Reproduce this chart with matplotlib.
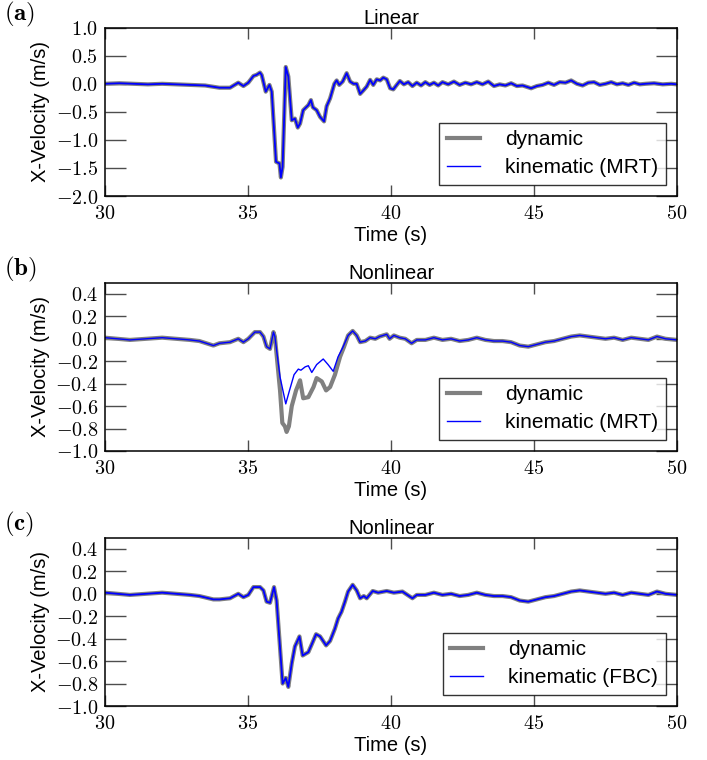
import matplotlib
matplotlib.use("Agg")
import matplotlib.pyplot as plt
from matplotlib.ticker import FuncFormatter

# ---------------- data ----------------
t_a = [30.0, 30.5, 31.0, 31.5, 32.0, 32.5, 33.0, 33.5, 34.0, 34.37, 34.66, 34.84, 35.01,
       35.19, 35.3, 35.42, 35.48, 35.62, 35.75, 35.83, 35.98, 36.1, 36.15, 36.21, 36.32,
       36.41, 36.53, 36.64, 36.74, 36.82, 36.93, 37.03, 37.11, 37.2, 37.27, 37.4, 37.52,
       37.66, 37.75, 37.87, 38.02, 38.1, 38.19, 38.31, 38.45, 38.57, 38.69, 38.8, 38.92,
       39.03, 39.15, 39.27, 39.38, 39.5, 39.62, 39.73, 39.85, 39.97, 40.08, 40.2, 40.31,
       40.45, 40.6, 40.75, 40.9, 41.05, 41.2, 41.35, 41.5, 41.65, 41.8, 42.0, 42.2, 42.4,
       42.6, 42.8, 43.0, 43.2, 43.4, 43.6, 43.8, 44.0, 44.2, 44.4, 44.6, 44.9, 45.1, 45.3,
       45.5, 45.7, 45.9, 46.1, 46.3, 46.5, 46.7, 46.9, 47.1, 47.3, 47.5, 47.7, 47.9, 48.1,
       48.3, 48.5, 48.7, 48.9, 49.2, 49.5, 49.8, 50.0]
dyn_a = [0.0, 0.01, 0.0, -0.01, 0.0, -0.01, -0.02, -0.03, -0.07, -0.07, 0.02, -0.04, 0.02,
         0.14, 0.16, 0.20, 0.155, -0.14, -0.02, -0.14, -1.39, -1.42, -1.67, -1.48, 0.30,
         0.13, -0.65, -0.62, -0.78, -0.71, -0.47, -0.42, -0.38, -0.29, -0.42, -0.47, -0.59,
         -0.67, -0.40, -0.26, 0.0, 0.06, -0.02, 0.04, 0.19, 0.04, 0.0, 0.0, -0.18,
         -0.12, -0.05, 0.07, -0.02, 0.08, 0.06, 0.11, 0.08, -0.08, -0.10, -0.02, 0.05,
         -0.01, 0.03, -0.04, 0.02, -0.03, 0.03, -0.02, 0.02, -0.03, 0.03, -0.01, 0.04, -0.02,
         0.02, -0.01, 0.03, -0.01, 0.04, -0.04, -0.01, -0.03, 0.01, -0.04, -0.03, -0.08, -0.04, -0.02,
         0.02, -0.02, 0.03, 0.02, 0.06, 0.0, -0.03, 0.02, 0.03, -0.02, 0.0, 0.03, -0.01, 0.01,
         -0.02, 0.02, -0.01, 0.0, 0.01, -0.01, 0.0, -0.01]
kin_a = dyn_a

t_b = [30.0, 30.87, 32.0, 32.97, 33.3, 33.79, 34.0, 34.37, 34.66, 34.84, 35.01, 35.24,
       35.42, 35.54, 35.65, 35.77, 35.89, 35.94, 36.12, 36.2, 36.29, 36.35, 36.43, 36.53,
       36.68, 36.82, 36.93, 37.11, 37.29, 37.4, 37.58, 37.73, 37.87, 38.04, 38.22, 38.36,
       38.5, 38.66, 38.8, 38.92, 39.1, 39.27, 39.45, 39.6, 39.85, 39.95, 40.1, 40.3, 40.5,
       40.72, 40.9, 41.2, 41.5, 41.8, 42.1, 42.4, 42.7, 43.0, 43.3, 43.6, 43.9, 44.2, 44.5,
       44.8, 45.1, 45.4, 45.7, 46.0, 46.3, 46.6, 46.9, 47.2, 47.5, 47.8, 48.1, 48.4, 48.7,
       49.0, 49.3, 49.6, 50.0]
dyn_b = [0.01, -0.01, 0.01, -0.01, -0.02, -0.06, -0.04, -0.03, 0.0, -0.03, 0.0, 0.06,
         0.06, 0.02, -0.07, -0.09, 0.06, 0.02, -0.46, -0.75, -0.78, -0.83, -0.78, -0.60,
         -0.46, -0.37, -0.53, -0.52, -0.43, -0.35, -0.38, -0.46, -0.43, -0.32, -0.16, -0.07,
         0.03, 0.07, 0.03, -0.03, -0.02, 0.01, 0.0, 0.02, 0.04, 0.0, 0.03, 0.01, 0.0,
         -0.04, -0.01, -0.01, 0.01, -0.01, 0.0, -0.02, -0.01, 0.01, -0.01, -0.02, -0.02, -0.03, -0.06,
         -0.07, -0.05, -0.03, -0.02, 0.0, 0.02, 0.03, 0.02, 0.01, 0.0, 0.01, -0.01, 0.01, 0.0,
         -0.01, 0.02, 0.0, -0.01]
t_b_kin = [30.0, 30.87, 32.0, 32.97, 33.3, 33.79, 34.0, 34.37, 34.66, 34.84, 35.01, 35.24,
           35.42, 35.54, 35.65, 35.77, 35.89, 35.94, 36.12, 36.32, 36.44, 36.61, 36.76, 36.85,
           37.0, 37.11, 37.23, 37.4, 37.63, 37.8, 37.98, 38.15, 38.31, 38.5, 38.66, 38.8,
           38.92, 39.1, 39.27, 39.45, 39.6, 39.85, 39.95, 40.1, 40.3, 40.5, 40.72, 40.9, 41.2,
           41.5, 41.8, 42.1, 42.4, 42.7, 43.0, 43.3, 43.6, 43.9, 44.2, 44.5, 44.8, 45.1, 45.4,
           45.7, 46.0, 46.3, 46.6, 46.9, 47.2, 47.5, 47.8, 48.1, 48.4, 48.7, 49.0, 49.3, 49.6,
           50.0]
kin_b = [0.01, -0.01, 0.01, -0.01, -0.02, -0.06, -0.04, -0.03, 0.0, -0.03, 0.0, 0.06,
         0.06, 0.02, -0.07, -0.09, 0.06, 0.02, -0.34, -0.58, -0.47, -0.32, -0.27, -0.28,
         -0.25, -0.24, -0.30, -0.23, -0.18, -0.23, -0.29, -0.16, -0.08, 0.03, 0.07, 0.03,
         -0.03, -0.02, 0.01, 0.0, 0.02, 0.04, 0.0, 0.03, 0.01, 0.0, -0.04, -0.01, -0.01,
         0.01, -0.01, 0.0, -0.02, -0.01, 0.01, -0.01, -0.02, -0.02, -0.03, -0.06, -0.07, -0.05,
         -0.03, -0.02, 0.0, 0.02, 0.03, 0.02, 0.01, 0.0, 0.01, -0.01, 0.01, 0.0, -0.01, 0.02,
         0.0, -0.01]

t_c = [30.0, 30.87, 32.0, 32.97, 33.3, 33.79, 34.0, 34.37, 34.66, 34.84, 35.01, 35.19,
       35.42, 35.54, 35.65, 35.77, 35.91, 36.0, 36.1, 36.21, 36.32, 36.41, 36.53, 36.64,
       36.8, 36.91, 37.11, 37.23, 37.38, 37.52, 37.73, 37.87, 38.04, 38.15, 38.27, 38.39,
       38.5, 38.66, 38.8, 38.92, 39.05, 39.15, 39.36, 39.55, 39.85, 40.1, 40.4, 40.75,
       40.9, 41.2, 41.5, 41.8, 42.1, 42.4, 42.7, 43.0, 43.3, 43.6, 43.9, 44.2, 44.5, 44.8,
       45.1, 45.4, 45.7, 46.0, 46.3, 46.6, 46.9, 47.2, 47.5, 47.8, 48.1, 48.4, 48.7, 49.0,
       49.3, 49.6, 50.0]
dyn_c = [0.01, -0.01, 0.01, -0.01, -0.02, -0.05, -0.05, -0.04, 0.0, -0.03, -0.01, 0.06,
         0.06, 0.03, -0.07, -0.08, 0.06, -0.06, -0.41, -0.80, -0.75, -0.83, -0.62, -0.47,
         -0.38, -0.55, -0.52, -0.45, -0.36, -0.38, -0.46, -0.42, -0.31, -0.22, -0.16, -0.07,
         0.02, 0.08, 0.03, -0.04, -0.02, -0.04, 0.025, 0.01, 0.025, 0.01, 0.02, -0.04,
         -0.01, -0.01, 0.01, -0.01, 0.0, -0.02, -0.01, 0.01, -0.01, -0.02, -0.02, -0.03, -0.06,
         -0.07, -0.05, -0.03, -0.02, 0.0, 0.02, 0.03, 0.02, 0.01, 0.0, 0.01, -0.01, 0.01, 0.0,
         -0.01, 0.02, 0.0, -0.01]
kin_c = dyn_c

titles = ["Linear", "Nonlinear", "Nonlinear"]
panel_labels = ["(a)", "(b)", "(c)"]
kin_labels = ["kinematic (MRT)", "kinematic (MRT)", "kinematic (FBC)"]
yticks_a = [-2.0, -1.5, -1.0, -0.5, 0.0, 0.5, 1.0]
yticks_bc = [-1.0, -0.8, -0.6, -0.4, -0.2, 0.0, 0.2, 0.4]
xticks = [30, 35, 40, 45, 50]

# ---------------- style ----------------
plt.rcParams['mathtext.fontset'] = 'cm'
plt.rcParams['font.family'] = ['Liberation Sans', 'DejaVu Sans']

W, H = 707, 760
fig = plt.figure(figsize=(W / 100, H / 100), dpi=100)

left = 105 / W
width = (677 - 105) / W
tops = [27.7, 282.7, 537.7]
ax_h = 168.3

series = [
    (t_a, dyn_a, t_a, kin_a, (-2.0, 1.0), yticks_a, 1.3),
    (t_b, dyn_b, t_b_kin, kin_b, (-1.0, 0.5), yticks_bc, 1.0),
    (t_c, dyn_c, t_c, kin_c, (-1.0, 0.5), yticks_bc, 1.3),
]

for i, (td, vd, tk, vk, ylim, yt, klw) in enumerate(series):
    bottom = 1 - (tops[i] + ax_h) / H
    ax = fig.add_axes([left, bottom, width, ax_h / H])
    ax.plot(td, vd, color='0.5', lw=3.0, label='dynamic', solid_joinstyle='round')
    ax.plot(tk, vk, color='blue', lw=klw, label=kin_labels[i], solid_joinstyle='round')
    ax.set_xlim(30, 50)
    ax.set_ylim(*ylim)
    ax.set_xticks(xticks)
    ax.set_yticks(yt)
    ax.xaxis.set_major_formatter(FuncFormatter(lambda v, p: r'$%d$' % round(v)))
    ax.yaxis.set_major_formatter(FuncFormatter(lambda v, p: r'$%.1f$' % v))
    ax.tick_params(axis='both', which='major', direction='in', top=True, right=True,
                   labelsize=14.5, width=1.0, color='0.3')
    ax.tick_params(axis='y', length=15, pad=5)
    ax.tick_params(axis='x', length=8, pad=6)
    ax.minorticks_off()
    for s in ax.spines.values():
        s.set_linewidth(1.1)
    ax.set_xlabel('Time (s)', fontsize=14.5, labelpad=2)
    ax.set_ylabel('X-Velocity (m/s)', fontsize=14.5, labelpad=4)
    ax.set_title(titles[i], fontsize=14.5, pad=3)
    leg = ax.legend(loc='lower right', fontsize=15, frameon=True, fancybox=False,
                    edgecolor='black', handlelength=1.6, handletextpad=1.2,
                    labelspacing=0.45, borderpad=0.35, borderaxespad=0.55)
    leg.get_frame().set_linewidth(1.0)
    leg.get_lines()[1].set_linewidth(1.0)
    fig.text(4 / W, 1 - (tops[i] - 13) / H, r'$\mathbf{%s}$' % panel_labels[i],
             fontsize=18, va='center', ha='left')

fig.savefig('out.png', dpi=100)
